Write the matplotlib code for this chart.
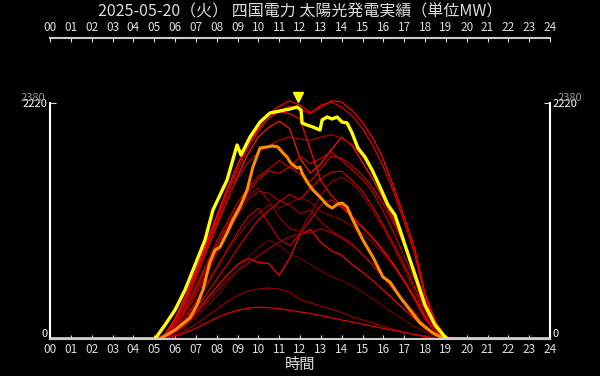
import matplotlib
matplotlib.use("Agg")
import matplotlib.pyplot as plt

plt.rcParams['font.family'] = ['Noto Sans CJK JP', 'DejaVu Sans']

TITLE = "2025-05-20（火） 四国電力 太陽光発電実績（単位MW）"
Y_MAX_LABEL = 2380
Y_TODAY_MAX = 2220

# 今日 (黄)
today_h = [0, 5.04, 5.52, 6.0, 6.48, 6.96, 7.44, 7.82, 8.5, 8.98, 9.17, 9.6, 10.08,
           10.56, 11.04, 11.52, 11.86, 12.05, 12.1, 12.34, 12.62, 12.96, 13.06, 13.3,
           13.54, 13.78, 14.02, 14.26, 14.5, 14.78, 15.12, 15.46, 15.84, 16.22, 16.56,
           17.04, 17.52, 18.0, 18.48, 18.96, 19.1, 24]
today_mw = [0, 0, 132, 273, 461, 696, 931, 1213, 1496, 1825, 1731, 1900, 2041,
            2126, 2145, 2164, 2182, 2154, 2032, 2013, 1994, 1966, 2060, 2088,
            2070, 2088, 2041, 2032, 1938, 1797, 1712, 1590, 1430, 1261, 1166,
            884, 602, 320, 132, 19, 0, 0]

# 昨日 (橙)
yest_h = [0, 5.28, 6.0, 6.72, 7.06, 7.34, 7.68, 7.92, 8.16, 8.5, 8.78, 9.12, 9.46,
          9.74, 10.08, 10.42, 10.7, 10.94, 11.14, 11.38, 11.52, 11.66, 11.86, 12.0,
          12.1, 12.34, 12.62, 12.96, 13.3, 13.54, 13.82, 14.02, 14.26, 14.54, 15.02,
          15.5, 15.98, 16.32, 16.8, 17.28, 17.76, 18.38, 18.86, 19.06, 24]
yest_mw = [0, 0, 85, 198, 320, 461, 724, 837, 865, 997, 1119, 1242, 1402,
           1618, 1797, 1806, 1816, 1806, 1759, 1712, 1665, 1637, 1609, 1618,
           1562, 1477, 1402, 1336, 1261, 1232, 1270, 1279, 1242, 1119, 931,
           771, 583, 536, 395, 273, 151, 56, 9, 0, 0]

# 過去の日 (赤) 5:00〜19:00 30分毎
past_h = [0, 5.0, 5.5, 6.0, 6.5, 7.0, 7.5, 8.0, 8.5, 9.0, 9.5, 10.0, 10.5, 11.0, 11.5,
          12.0, 12.5, 13.0, 13.5, 14.0, 14.5, 15.0, 15.5, 16.0, 16.5, 17.0, 17.5,
          18.0, 18.5, 19.0, 24]
past_mw = [
    [0, 0, 40, 190, 400, 630, 880, 1150, 1400, 1640, 1850, 2010, 2120, 2190, 2240, 2200,
     2130, 2180, 2240, 2230, 2150, 2040, 1890, 1690, 1430, 1150, 860, 430, 170, 15, 0],
    [0, 0, 30, 170, 370, 600, 850, 1110, 1360, 1590, 1800, 1960, 2080, 2150, 2190, 2160,
     2120, 2200, 2230, 2180, 2100, 1980, 1820, 1620, 1380, 1100, 800, 400, 150, 10, 0],
    [0, 0, 25, 150, 340, 570, 820, 1060, 1300, 1530, 1740, 1900, 1990, 2050, 1980, 1700,
     1560, 1650, 1780, 1900, 1820, 1660, 1500, 1320, 1120, 890, 650, 320, 110, 5, 0],
    [0, 0, 20, 130, 300, 500, 700, 920, 1100, 1280, 1420, 1530, 1600, 1680, 1610, 1720,
     1650, 1700, 1760, 1680, 1590, 1500, 1380, 1200, 1000, 780, 560, 280, 90, 4, 0],
    [0, 0, 18, 100, 240, 410, 600, 800, 990, 1160, 1310, 1390, 1370, 1300, 1260, 1180,
     1210, 1100, 1020, 960, 900, 800, 700, 580, 460, 340, 220, 110, 40, 0, 0],
    [0, 0, 12, 70, 170, 290, 420, 560, 700, 850, 990, 1120, 1210, 1290, 1360, 1310,
     1420, 1510, 1570, 1580, 1490, 1390, 1240, 1070, 890, 700, 490, 270, 100, 4, 0],
    [0, 0, 8, 55, 140, 250, 370, 490, 600, 700, 760, 720, 710, 600, 760, 980,
     1030, 910, 830, 790, 700, 630, 550, 460, 370, 280, 190, 100, 40, 0, 0],
    [0, 0, 6, 35, 80, 140, 210, 280, 350, 410, 450, 470, 480, 470, 440, 370,
     340, 310, 280, 250, 210, 180, 150, 120, 90, 65, 40, 20, 5, 0, 0],
    [0, 0, 4, 25, 60, 100, 150, 200, 240, 270, 290, 300, 295, 285, 270, 255,
     240, 220, 200, 180, 160, 140, 120, 100, 80, 60, 45, 25, 8, 0, 0],
    [0, 0, 25, 150, 350, 580, 830, 1080, 1310, 1510, 1660, 1760, 1820, 1870, 1900, 1880,
     1870, 1900, 1920, 1890, 1830, 1720, 1560, 1360, 1130, 880, 620, 330, 120, 6, 0],
    [0, 0, 16, 90, 210, 360, 520, 680, 830, 960, 1090, 1180, 1260, 1230, 1280, 1330,
     1290, 1200, 1160, 1120, 1060, 990, 900, 800, 680, 540, 380, 200, 75, 3, 0],
    [0, 0, 15, 80, 190, 340, 500, 660, 840, 1000, 1150, 1230, 1090, 940, 880, 990,
     1120, 1260, 1310, 1240, 1150, 1050, 950, 830, 700, 540, 370, 190, 65, 2, 0],
    [0, 0, 35, 190, 400, 650, 900, 1160, 1410, 1640, 1830, 1980, 2080, 2140, 2120, 2070,
     1780, 1490, 1350, 1250, 1150, 1050, 950, 830, 700, 550, 390, 210, 75, 3, 0],
    [0, 0, 10, 55, 130, 230, 340, 450, 550, 640, 710, 780, 850, 910, 960, 990,
     1000, 1040, 1000, 950, 880, 790, 690, 580, 470, 360, 250, 130, 45, 0, 0],
    [0, 0, 8, 50, 120, 210, 300, 400, 520, 640, 760, 860, 930, 880, 800, 760,
     700, 640, 590, 550, 500, 440, 380, 310, 240, 180, 120, 60, 20, 0, 0],
    [0, 0, 20, 120, 280, 470, 670, 880, 1060, 1230, 1380, 1500, 1580, 1560, 1620, 1550,
     1480, 1600, 1720, 1700, 1630, 1540, 1420, 1270, 1090, 880, 650, 350, 120, 5, 0],
    [0, 0, 18, 110, 260, 440, 630, 830, 1020, 1200, 1350, 1420, 1300, 1150, 1040, 1010,
     1180, 1350, 1480, 1520, 1460, 1350, 1200, 1040, 860, 660, 450, 230, 80, 2, 0],
]
past_colors = ['#ff0000', '#e00000', '#ff1a00', '#c00000', '#a00000', '#d00000', '#ff0000',
               '#900000', '#e00000', '#b00000', '#800000', '#c00000', '#ff0000', '#a00000',
               '#700000', '#cc0000', '#900000']

hours = list(range(25))
hour_labels = [f"{h:02d}" for h in hours]
fg = '#dddddd'

fig = plt.figure(figsize=(6, 3.76), dpi=100, facecolor='black')
ax = fig.add_axes([50/600, 37/376, 500/600, 301/376], facecolor='black')

for mw, c in zip(past_mw, past_colors):
    ax.plot(past_h, mw, color=c, lw=0.9)
ax.plot(yest_h, yest_mw, color='#ff8c00', lw=2.2)
ax.plot(today_h, today_mw, color='#ffff00', lw=2.4)

# ピーク位置の三角
i_peak = today_mw.index(max(today_mw))
ax.plot(today_h[i_peak] + 0.05, today_mw[i_peak] + 95, marker='v', color='#ffff00',
        markersize=7, linestyle='none')

ax.set_xlim(0, 24)
ax.set_ylim(0, Y_TODAY_MAX * 301 / 236)
ax.set_xticks(hours)
ax.set_xticklabels(hour_labels)
ax.set_yticks([0, Y_TODAY_MAX])
ax.set_yticklabels(["0", str(Y_TODAY_MAX)])

ax.tick_params(axis='x', direction='in', length=3, colors=fg, labelsize=8.5,
               top=True, labeltop=True, pad=3)
ax.tick_params(axis='y', direction='in', length=4, colors=fg, labelsize=8,
               right=True, labelright=True, pad=2)
ticks = ax.yaxis.get_major_ticks()
for lab in (ticks[0].label1, ticks[0].label2):
    lab.set_verticalalignment('bottom')
for t in ticks:
    t.label1.set_color('white')
    t.label2.set_color('white')

for s in ['left', 'right']:
    ax.spines[s].set_bounds(0, Y_TODAY_MAX)
    ax.spines[s].set_color('white')
    ax.spines[s].set_linewidth(1.5)
for s in ['top', 'bottom']:
    ax.spines[s].set_color('#cccccc')
    ax.spines[s].set_linewidth(1.5)

# 上限ラベル
fig.text(45/600, 1 - 98/376, str(Y_MAX_LABEL), color='#999999', fontsize=8,
         ha='right', va='center', zorder=0)
fig.text(582/600, 1 - 98/376, str(Y_MAX_LABEL), color='#999999', fontsize=8,
         ha='right', va='center', zorder=0)

ax.set_xlabel("時間", color=fg, fontsize=11, labelpad=0)
fig.text(0.5, 1 - 12/376, TITLE, color=fg, fontsize=11.5, ha='center', va='center')

fig.savefig("out.png", dpi=100, facecolor='black')
